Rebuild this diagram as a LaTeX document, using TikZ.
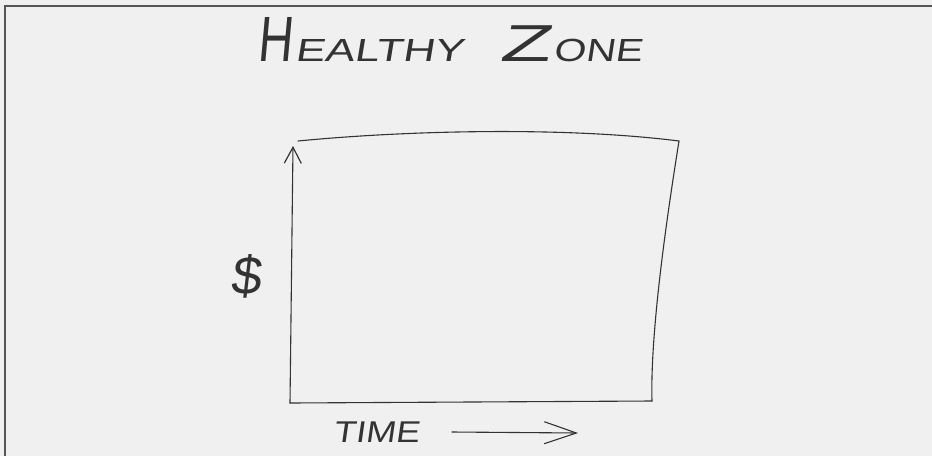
\documentclass[tikz,border=0pt]{standalone}
\usepackage{fontspec}
\usetikzlibrary{arrows.meta}
\newfontfamily\hand[FakeSlant=0.12]{Liberation Sans}
\definecolor{paper}{HTML}{F0F0F0}
\definecolor{frame}{HTML}{555555}
\definecolor{ink}{HTML}{333333}
\tikzset{
  pen/.style={draw=ink, line width=1.1pt, line cap=round, line join=round},
  handtext/.style={inner sep=0pt, text=ink, font=\hand},
}
\begin{document}
\begin{tikzpicture}[x=1pt,y=-1pt]
\useasboundingbox (0,0) rectangle (932,456);
\fill[paper] (0,0) rectangle (932,456);
\draw[frame, line width=2pt] (4.5,456) -- (4.5,5.5) -- (932,5.5);

% title
\node[handtext, anchor=base west] (title) at (257,61)
  {\scalebox{0.75}[1]{\fontsize{64}{64}\selectfont H}\hspace{3pt}\scalebox{1.38}[1]{\fontsize{32}{32}\selectfont EALTHY}\hspace{36pt}\scalebox{1.6}[1]{\fontsize{52}{52}\selectfont Z}\hspace{3pt}\scalebox{1.28}[1]{\fontsize{32}{32}\selectfont ONE}};

% corners of the chart
\coordinate (bl) at (290,403);
\coordinate (tl) at (293,146);
\coordinate (tls) at (298,141);
\coordinate (tr) at (679,141);
\coordinate (br) at (652,401);

\draw[pen, -{Straight Barb[length=16pt,width=17pt,line width=1.2pt]}] (bl) .. controls (291,320) and (292,230) .. (tl);
\draw[pen] (tls) .. controls (400,131) and (560,126) .. (tr);
\draw[pen] (tr) .. controls (668,210) and (650,330) .. (br);
\draw[pen] (br) -- (bl);

% labels
\node[handtext, anchor=center] (dollar) at (246,276) {\fontsize{54}{54}\selectfont\$};
\node[handtext, anchor=base west] (time) at (333,442) {\scalebox{1.2}[1]{\fontsize{30}{30}\selectfont TIME}};
\coordinate (tstart) at (452,432);
\coordinate (tend) at (578,433);
\draw[pen, -{Straight Barb[length=32pt,width=22pt,line width=1.1pt]}] (tstart) -- (tend);
\end{tikzpicture}
\end{document}
